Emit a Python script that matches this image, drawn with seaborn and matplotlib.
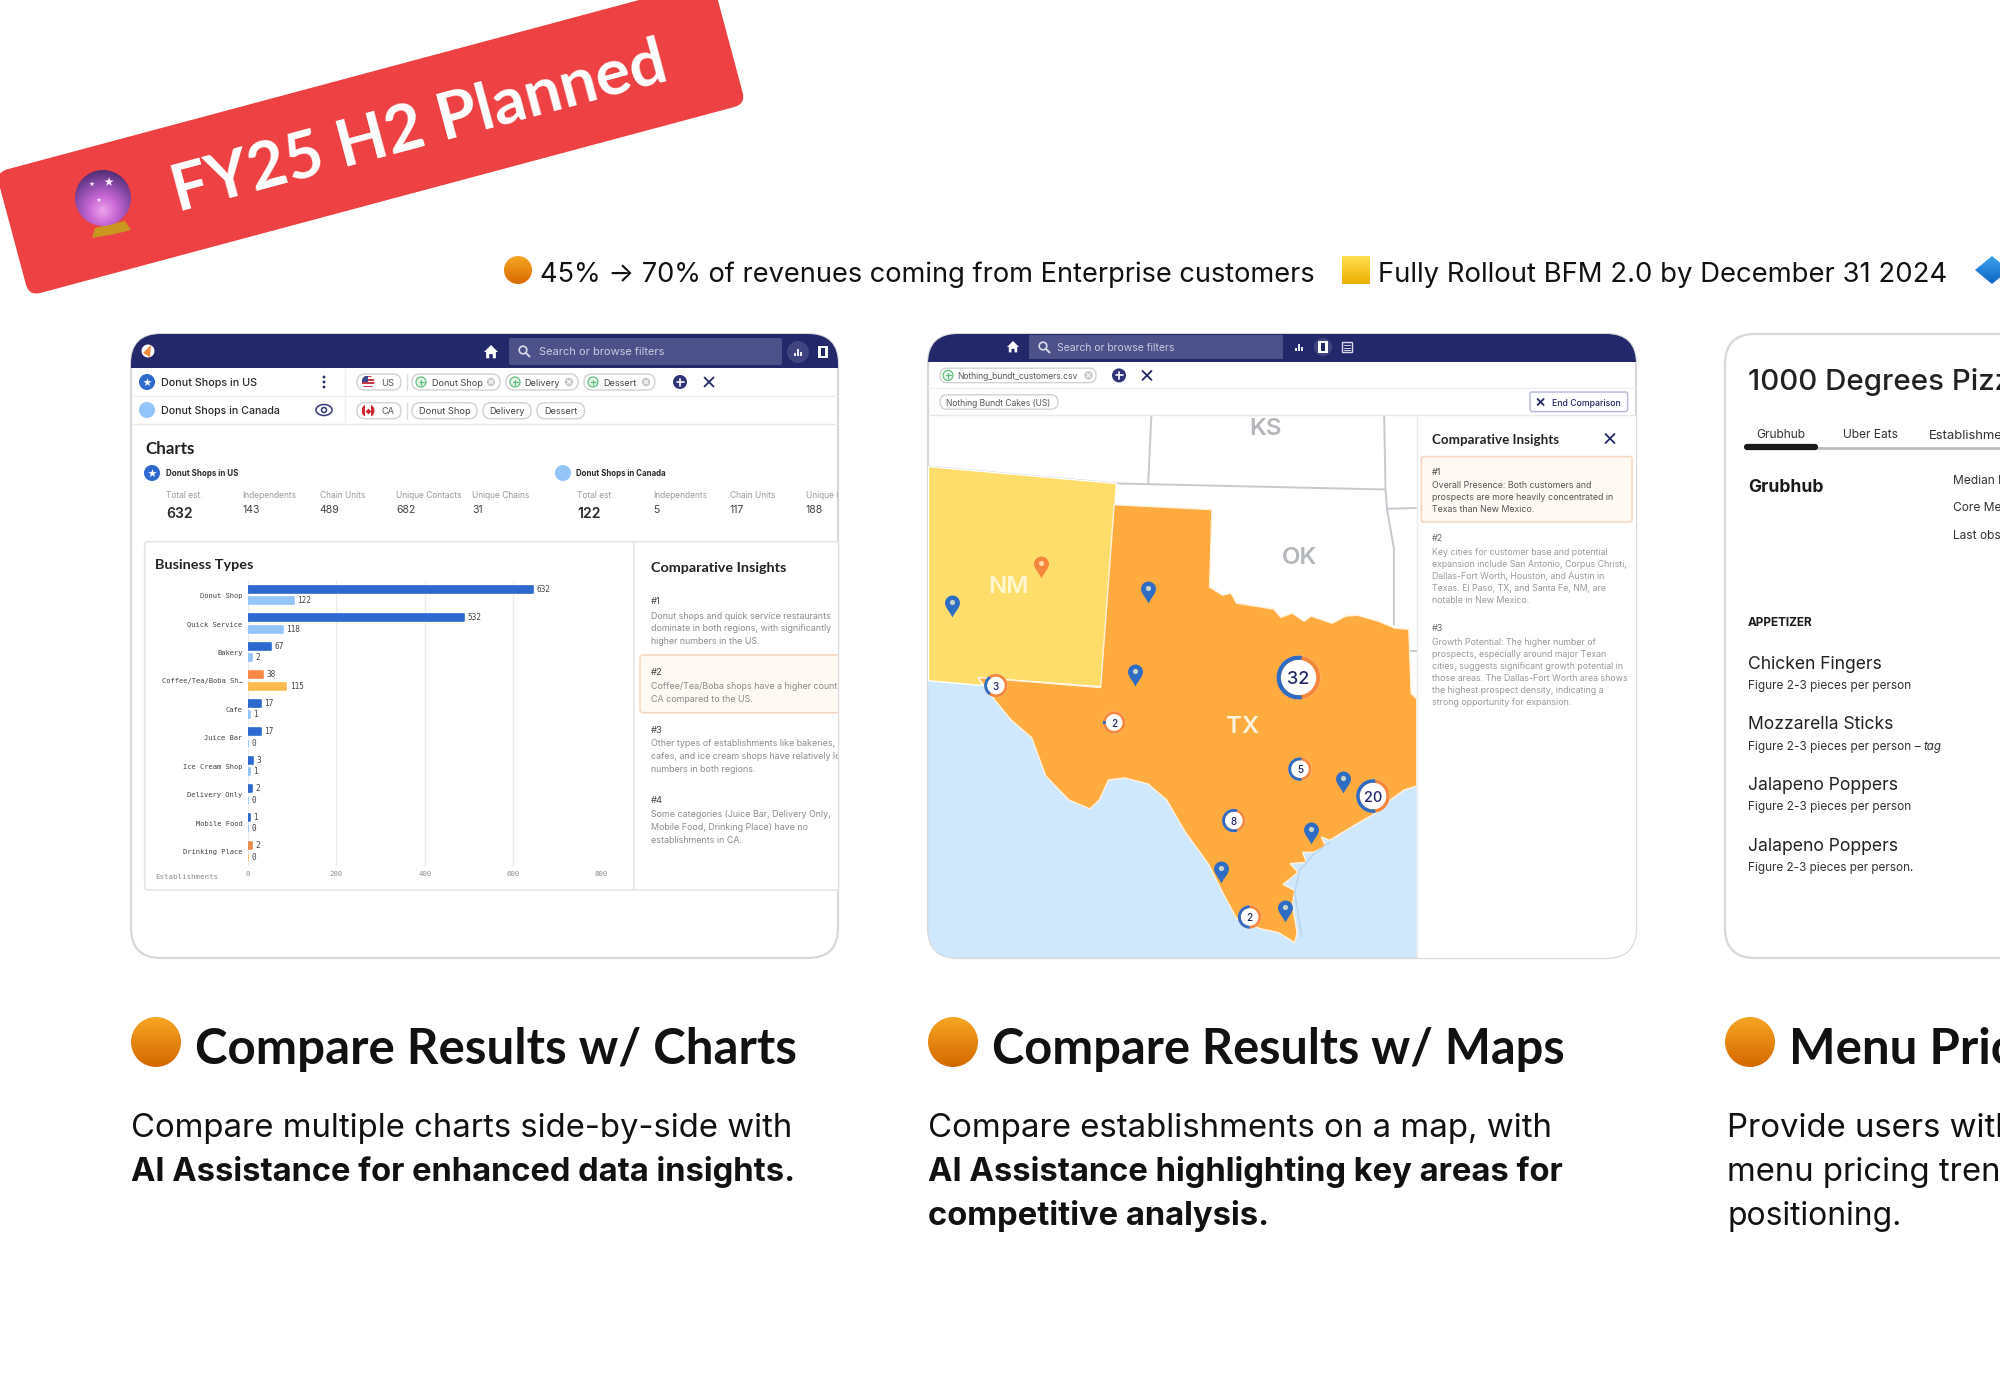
import numpy as np
import pandas as pd
import matplotlib
matplotlib.use("Agg")
import matplotlib.pyplot as plt
import seaborn as sns
from matplotlib.patches import FancyBboxPatch, Circle, Ellipse, Rectangle, Polygon, Wedge
from matplotlib.path import Path
from matplotlib.transforms import Affine2D
from matplotlib.colors import LinearSegmentedColormap

# ---------------- chart data ----------------
categories = ["Donut Shop", "Quick Service", "Bakery", "Coffee/Tea/Boba Sh\u2026", "Cafe",
              "Juice Bar", "Ice Cream Shop", "Delivery Only", "Mobile Food", "Drinking Place"]
us_lengths = [645, 489, 52, 34, 29, 29, 12, 8, 4, 8]      # bar lengths as drawn
ca_lengths = [104, 79, 8, 87, 4, 1, 4, 1, 1, 1]
us_labels = [632, 532, 67, 38, 17, 17, 3, 2, 1, 2]        # value labels as printed
ca_labels = [122, 118, 2, 115, 1, 0, 1, 0, 0, 0]
us_colors = ["#2D69CE"] * 3 + ["#FB8A45"] + ["#2D69CE"] * 5 + ["#E98E50"]
ca_colors = ["#93C5FB"] * 3 + ["#FDBB4F"] + ["#93C5FB"] * 5 + ["#FDBB4F"]
x_ticks = [0, 200, 400, 600, 800]

stat_heads = ["Total est.", "Independents", "Chain Units", "Unique Contacts", "Unique Chains"]
us_stats = ["632", "143", "489", "682", "31"]
ca_stats = ["122", "5", "117", "188"]

blue_pins = [(68, 688), (489, 652), (461, 859), (908, 1124), (840, 1252), (647, 1350), (785, 1445)]
orange_pins = [(260, 590)]
clusters = [("32", 813, 865, 47, .55), ("20", 973, 1160, 36, .55), ("3", 163, 885, 25, .3),
            ("2", 417, 977, 24, .05), ("5", 816, 1093, 25, .55), ("8", 674, 1221, 25, .6),
            ("2", 708, 1461, 25, .5)]
TEXAS = [(417, 435), (627, 447), (622, 640), (650, 660), (668, 655), (680, 680), (725, 688), (760, 695),
         (775, 715), (800, 705), (825, 725), (840, 712), (885, 730), (915, 712), (940, 710), (985, 725),
         (1020, 742), (1050, 745), (1055, 905), (1067, 918), (1067, 1135), (1040, 1145), (1010, 1170),
         (975, 1205), (930, 1235), (880, 1270), (862, 1262), (872, 1285), (845, 1300), (822, 1300), (830, 1325),
         (795, 1328), (812, 1350), (780, 1380), (805, 1395), (800, 1430),
         (810, 1500), (805, 1525), (770, 1500), (730, 1490), (680, 1465), (650, 1400), (620, 1330),
         (570, 1250), (530, 1170), (490, 1130), (440, 1115), (405, 1120), (385, 1170), (365, 1192),
         (320, 1170), (270, 1110), (240, 1015), (195, 970), (160, 920), (125, 865), (388, 890)]
NEW_MEXICO = [(18, 340), (422, 382), (390, 888), (125, 865), (135, 885), (18, 873)]
SEA = [(18, 873), (400, 895), (1067, 915), (1067, 1562), (18, 1562)]
BORDERS = [[(497, 213), (490, 385)], [(18, 340), (422, 382), (1000, 397)], [(997, 213), (1000, 397), (1003, 445), (1067, 443)],
           [(1003, 445), (1018, 545), (1018, 735)], [(1050, 800), (1067, 800)]]
ISLANDS = [(880, 1275), (845, 1305), (815, 1345), (805, 1400), (820, 1510)]

NAVY = "#23286B"
UI = "Inter"
HEAD = "Lato"
MONO = "DejaVu Sans Mono"

sns.set_theme(style="white")
plt.rcParams["font.family"] = ["Inter", "DejaVu Sans"]

fig = plt.figure(figsize=(20, 14), dpi=100, facecolor="white")
ax = fig.add_axes([0, 0, 1, 1])
ax.set_xlim(0, 2000)
ax.set_ylim(1400, 0)
ax.axis("off")
ax.set_autoscale_on(False)
renderer = fig.canvas.get_renderer()


def clip(a, c):
    if c is not None:
        a.set_clip_path(c)
        a.set_clip_on(True)
    return a


def T(x, y, s, px=12, x1=None, w="normal", c="#222222", fam=UI, ha="left", va="center", rot=0, cl=None, style="normal", z=5):
    t = ax.text(x, y, s, fontsize=px * .72, fontweight=w, color=c, family=fam, ha=ha, va=va,
                fontstyle=style, zorder=z, rotation_mode="anchor")
    if x1 is not None:
        bb = t.get_window_extent(renderer)
        t.set_fontsize(t.get_fontsize() * (x1 - x) / bb.width)
    if va == "center":
        t.set_y(y + .12 * t.get_fontsize() / .72)
    t.set_rotation(rot)
    if cl is not None:
        # the Agg backend clips text only to a box, so use the panel's box
        t.set_clip_box(cl.get_window_extent(renderer))
        t.set_clip_on(True)
    return t


def L(xs, ys, c="#444444", lw=1.0, cl=None, z=4, cap="round"):
    l, = ax.plot(xs, ys, color=c, lw=lw, zorder=z, solid_capstyle=cap)
    clip(l, cl)
    return l


def box(x0, y0, x1, y1, fc="white", ec="none", lw=1, r=0, cl=None, z=2):
    if r:
        p = FancyBboxPatch((x0, y0), x1 - x0, y1 - y0, boxstyle=f"round,pad=0,rounding_size={r}",
                           fc=fc, ec=ec, lw=lw, zorder=z)
    else:
        p = Rectangle((x0, y0), x1 - x0, y1 - y0, fc=fc, ec=ec, lw=lw, zorder=z)
    ax.add_patch(p)
    clip(p, cl)
    return p


def circ(x, y, r, fc="white", ec="none", lw=1, cl=None, z=4):
    p = Circle((x, y), r, fc=fc, ec=ec, lw=lw, zorder=z)
    ax.add_patch(p)
    clip(p, cl)
    return p


def orb(cx, cy, rx, ry, top, bottom, shape="ellipse", z=6):
    cm = LinearSegmentedColormap.from_list("o", [top, bottom])
    im = ax.imshow(np.linspace(0, 1, 64).reshape(-1, 1), cmap=cm, aspect="auto", zorder=z, interpolation="bilinear",
                   extent=(cx - rx, cx + rx, cy + ry, cy - ry))
    if shape == "ellipse":
        p = Ellipse((cx, cy), 2 * rx, 2 * ry, fc="none", ec="none", zorder=z)
    elif shape == "diamond":
        p = Polygon([(cx - rx, cy), (cx, cy - ry), (cx + rx, cy), (cx, cy + ry)], fc="none", ec="none", zorder=z)
    else:
        p = Rectangle((cx - rx, cy - ry), 2 * rx, 2 * ry, fc="none", ec="none", zorder=z)
    ax.add_patch(p)
    im.set_clip_path(p)


def xmark(x, y, s=4, c=NAVY, lw=1.3, cl=None, z=6):
    L([x - s, x + s], [y - s, y + s], c, lw, cl, z)
    L([x - s, x + s], [y + s, y - s], c, lw, cl, z)


def plus_circle(x, y, r=7):
    circ(x, y, r, fc="#2F3478", z=6)
    L([x - 3.5, x + 3.5], [y, y], "white", 1.2, z=7)
    L([x, x], [y - 3.5, y + 3.5], "white", 1.2, z=7)


def green_plus(x, y, r=5):
    circ(x, y, r, fc="#EAF7EE", ec="#62BF7F", lw=.9, z=6)
    L([x - 2.5, x + 2.5], [y, y], "#62BF7F", .9, z=7)
    L([x, x], [y - 2.5, y + 2.5], "#62BF7F", .9, z=7)


def gray_x(x, y, r=4.2):
    circ(x, y, r, fc="#C8C8C8", z=6)
    xmark(x, y, 1.8, "white", .8, z=7)


def home(x, y, s=6, c="white"):
    pts = [(-1, 0), (0, -1), (1, 0), (.7, 0), (.7, .9), (.25, .9), (.25, .3), (-.25, .3), (-.25, .9), (-.7, .9), (-.7, 0)]
    ax.add_patch(Polygon([(x + a * s, y + b * s) for a, b in pts], fc=c, ec="none", zorder=6))


def magnifier(x, y, c="#DADBEA"):
    ax.add_patch(Circle((x - 1, y - 1), 3.8, fc="none", ec=c, lw=1.2, zorder=6))
    L([x + 1.8, x + 5.5], [y + 1.8, y + 5.5], c, 1.4, z=6)


def bars_icon(x, y, c="white"):
    for dx, h in [(-3, 3), (0, 7), (3, 4)]:
        L([x + dx, x + dx], [y + 4, y + 4 - h], c, 1.3, z=7, cap="butt")


def map_icon(x, y, c="white"):
    ax.add_patch(Polygon([(x - 5, y - 6), (x + 5, y - 6), (x + 5, y + 6), (x - 5, y + 6)], fc=c, ec="none", zorder=7))
    ax.add_patch(Rectangle((x - 2, y - 4), 4, 8, fc=NAVY, ec="none", zorder=8))


def star_circle(x, y, r=8):
    circ(x, y, r, fc="#2D69CE", z=6)
    ax.scatter([x], [y], marker="*", s=(r * 1.1 * .72) ** 2, c="white", linewidths=0, zorder=7)


def pill(x0, x1, y, h=16, cl=None):
    box(x0, y - h / 2, x1, y + h / 2, fc="white", ec="#D2D2D2", lw=1, r=h / 2, cl=cl, z=3)


def us_flag(x, y, r=6.5):
    base = circ(x, y, r, fc="white", z=6)
    for k in range(4):
        clip(ax.add_patch(Rectangle((x - r, y - r + k * 3.4), 2 * r, 1.7, fc="#C8394A", ec="none", zorder=7)), base)
    clip(ax.add_patch(Rectangle((x - r, y - r), r, r, fc="#3C4A8C", ec="none", zorder=8)), base)


def ca_flag(x, y, r=6.5):
    base = circ(x, y, r, fc="white", z=6)
    for a in (x - r, x + r * .45):
        clip(ax.add_patch(Rectangle((a, y - r), r * .55, 2 * r, fc="#D0262F", ec="none", zorder=7)), base)
    ax.scatter([x], [y], marker="D", s=9, c="#D0262F", linewidths=0, zorder=8)


# ---------------- banner ----------------
tr = Affine2D().rotate_deg(-15).translate(29, 296) + ax.transData
ax.add_patch(FancyBboxPatch((0, -128), 742, 128, boxstyle="round,pad=0,rounding_size=12",
                            fc="#EE4144", ec="none", transform=tr, zorder=2))
T(178, 212, "FY25 H2 Planned", x1=178 + 512, w="bold", c="white", fam=HEAD, va="baseline", rot=15)
# crystal ball
yy, xx = np.mgrid[-1:1:80j, -1:1:80j]
rad = np.sqrt(xx ** 2 + (yy - .45) ** 2)
cm_ball = LinearSegmentedColormap.from_list("b", ["#EDA2EC", "#C968D6", "#8A4AA8", "#4A2A6E"])
im = ax.imshow(np.clip(rad / 1.5, 0, 1), cmap=cm_ball, aspect="auto", zorder=6, extent=(75, 131, 226, 170), vmin=0, vmax=1)
ball = Ellipse((103, 198), 56, 56, fc="none", ec="none", zorder=6)
ax.add_patch(ball)
im.set_clip_path(ball)
ax.add_patch(Polygon([(92, 238), (95, 228), (125, 221), (131, 230), (115, 234)], fc="#C9961F", ec="none", zorder=5))
ax.scatter([92, 109, 99], [184, 182, 200], marker="*", s=[16, 50, 14], c="#F8E6FA", linewidths=0, zorder=7)

# ---------------- ticker ----------------
orb(518, 270, 14, 14, "#F6A623", "#D96A00")
T(540, 282.5, "45% \u2192 70% of revenues coming from Enterprise customers", x1=1314, c="#111111", fam=[UI, "DejaVu Sans"], va="baseline")
orb(1356, 270, 14, 14, "#FFE04F", "#EDAE00", shape="rect")
T(1378, 282.5, "Fully Rollout BFM 2.0 by December 31 2024", x1=1945, c="#111111", fam=[UI, "DejaVu Sans"], va="baseline")
orb(1992, 270, 17, 14, "#3CA3F0", "#0E63C4", shape="diamond")

# ---------------- panels ----------------
p1 = box(131, 334, 838, 958, fc="white", ec="#D8D8D8", lw=1.6, r=30, z=1)
p2 = box(928, 334, 1636, 958, fc="white", ec="#D8D8D8", lw=1.6, r=30, z=1)
p3 = box(1725, 334, 2100, 958, fc="white", ec="#D8D8D8", lw=1.6, r=30, z=1)

# ---- panel 1 ----
box(131, 334, 838, 368, fc=NAVY, cl=p1)
circ(148, 351, 6.5, fc="white")
ax.add_patch(Polygon([(151, 345), (143, 353), (150, 357)], fc="#F08A3C", ec="none", zorder=6))
home(491, 352, 7)
box(509, 338, 782, 365, fc="#4C5189", r=2, z=3)
magnifier(524, 351)
T(539, 351, "Search or browse filters", x1=664, c="#C9CBE0")
circ(798, 352, 11, fc="#3F4480", z=3)
bars_icon(798, 352)
map_icon(823, 352)
L([131, 838], [396, 396], "#EFEFEF", 1)
L([131, 838], [424, 424], "#E8E8E8", 1)
L([345, 345], [368, 424], "#EFEFEF", 1)
star_circle(147, 382)
T(161, 382, "Donut Shops in US", x1=257, c="#2A2A2A", w="medium")
for dy in (-5, 0, 5):
    circ(324, 382 + dy, 1.4, fc=NAVY, z=6)
circ(147, 410, 8, fc="#93C5FB")
T(161, 410, "Donut Shops in Canada", x1=280, c="#2A2A2A", w="medium")
ax.add_patch(Ellipse((324, 410), 16, 11, fc="none", ec="#33397A", lw=1.1, zorder=6))
circ(324, 410, 2.5, fc="none", ec="#33397A", lw=1.1, z=6)

pill(357, 401, 382)
us_flag(368, 382)
T(381, 382, "US", x1=394, c="#555555")
L([407, 407], [374, 390], "#DDDDDD", 1)
for x0, x1, tx0, tx1, lab in [(412, 500, 432, 482, "Donut Shop"), (506, 578, 524, 559, "Delivery"), (584, 655, 603, 636, "Dessert")]:
    pill(x0, x1, 382)
    green_plus(x0 + 9, 382)
    T(tx0, 382, lab, x1=tx1, c="#444444")
    gray_x(x1 - 9, 382)
plus_circle(680, 382)
xmark(709, 382, 4.5)
pill(357, 401, 410.7)
ca_flag(368, 410.7)
T(381, 410.7, "CA", x1=394, c="#555555")
L([407, 407], [403, 419], "#DDDDDD", 1)
for x0, x1, tx0, tx1, lab in [(412, 477, 419, 470, "Donut Shop"), (483, 531, 489, 524, "Delivery"), (537, 584.5, 544, 577, "Dessert")]:
    pill(x0, x1, 410.7)
    T(tx0, 410.7, lab, x1=tx1, c="#444444")

T(145, 454, "Charts", x1=195, w="bold", c="#222222", fam=HEAD, va="baseline")
star_circle(152, 473)
T(166, 473, "Donut Shops in US", x1=238, w="bold", c="#2A2A2A")
circ(563, 473, 8, fc="#93C5FB")
T(576, 473, "Donut Shops in Canada", x1=666, w="bold", c="#2A2A2A")
us_x = [166, 242.5, 319.6, 396, 472.5]
ca_x = [577, 653, 730, 806]
for xs, vals, heads in [(us_x, us_stats, stat_heads), (ca_x, ca_stats, stat_heads[:3] + ["Unique Contacts"])]:
    for k, (x, v, h) in enumerate(zip(xs, vals, heads)):
        T(x, 494, h, px=8.4, c="#9A9A9A", cl=p1)
        if k == 0:
            T(x, 512, v, px=14, w="semibold", c="#2A2A2A")
        else:
            T(x, 509, v, px=10.5, c="#444444")

box(144.7, 541.7, 900, 890, fc="white", ec="#E6E6E6", lw=1.2, r=3, cl=p1, z=2)
L([634, 634], [541.7, 890], "#E6E6E6", 1.2, z=3)
T(155, 563, "Business Types", x1=253.5, w="bold", c="#222222", fam=HEAD)
T(650.6, 566, "Comparative Insights", x1=787, w="bold", c="#222222", fam=HEAD)
box(640, 655, 900, 712.7, fc="#FFF9F3", ec="#F6D6BE", lw=1.1, r=3, cl=p1, z=3)
insights1 = [("#1", 600.7, [(615, "Donut shops and quick service restaurants"), (627.7, "dominate in both regions, with significantly"), (640.3, "higher numbers in the US.")]),
             ("#2", 671, [(685, "Coffee/Tea/Boba shops have a higher count in"), (698, "CA compared to the US.")]),
             ("#3", 729, [(742.7, "Other types of establishments like bakeries,"), (755.7, "cafes, and ice cream shops have relatively low"), (768.7, "numbers in both regions.")]),
             ("#4", 799, [(813, "Some categories (Juice Bar, Delivery Only,"), (826, "Mobile Food, Drinking Place) have no"), (839, "establishments in CA.")])]
for head, hy, lines in insights1:
    T(650.6, hy, head, px=9.4, c="#444444")
    for ly, s in lines:
        T(650.6, ly, s, px=8.9, c="#8C8C8C", cl=p1)

# bar chart (pixel box: x 248-601.5 for 0-800, rows 28.5 px apart)
bax = fig.add_axes([248 / 2000, 1 - 865.75 / 1400, 353.5 / 2000, 285 / 1400], facecolor="none", zorder=3)
df = pd.DataFrame({
    "category": categories * 2,
    "length": us_lengths + ca_lengths,
    "region": ["US"] * 10 + ["Canada"] * 10,
})
sns.barplot(data=df, y="category", x="length", hue="region", hue_order=["US", "Canada"], orient="h",
            gap=.4, legend=False, ax=bax, errorbar=None)
bax.set_xlim(0, 800)
bax.set_ylim(9.5, -.5)
bax.set_xticks(x_ticks)
bax.set_xticklabels([str(v) for v in x_ticks], fontsize=5.2, family=MONO, color="#8E8E8E")
bax.set_yticks(range(10))
bax.set_yticklabels(categories, fontsize=5.15, family=MONO, color="#444444")
bax.tick_params(axis="both", length=0, pad=4)
bax.set_xlabel("")
bax.set_ylabel("")
bax.xaxis.grid(True, color="#ECECEC", lw=.9)
bax.yaxis.grid(False)
bax.set_axisbelow(True)
for s in bax.spines.values():
    s.set_visible(False)
for cont, cols, labs in zip(bax.containers, (us_colors, ca_colors), (us_labels, ca_labels)):
    for bar, col in zip(cont, cols):
        bar.set_facecolor(col)
        bar.set_edgecolor(col)
        bar.set_linewidth(1.2)
        bar.set_joinstyle("round")
    bax.bar_label(cont, labels=[str(v) for v in labs], padding=2.5, fontsize=5.6, family=MONO, color="#444444")
T(155, 876, "Establishments", x1=218, fam=MONO, c="#8E8E8E")

# ---- panel 2 ----
def P2(zx, zy):
    return 920 + zx / 2.148, 330 + zy / 2.489


box(928, 334, 1636, 362, fc=NAVY, cl=p2)
home(1013, 347, 6)
box(1029.4, 335, 1283, 359, fc="#4C5189", z=3)
magnifier(1044, 347)
T(1057, 347, "Search or browse filters", x1=1174, c="#C9CBE0")
bars_icon(1298.5, 347)
circ(1323, 347, 9, fc="#3F4480", z=3)
map_icon(1323, 347)
ax.add_patch(Rectangle((1342, 342), 10, 10, fc="none", ec="#DADBEA", lw=1, zorder=6))
for dy in (345, 347.5, 350):
    L([1344, 1350], [dy, dy], "#DADBEA", .7, z=6)
L([928, 1636], [388, 388], "#EFEFEF", 1, cl=p2)
L([928, 1636], [415, 415], "#E8E8E8", 1, cl=p2)
pill(940, 1096, 375.4, h=14.5)
green_plus(948, 375.4)
T(957.7, 375.4, "Nothing_bundt_customers.csv", x1=1079, c="#555555")
gray_x(1088.5, 375.4)
plus_circle(1119, 375.4)
xmark(1147, 375.4, 4.5)
pill(940, 1058, 402, h=14.5)
T(946.5, 402, "Nothing Bundt Cakes (US)", x1=1051, c="#555555")
box(1530, 392, 1627.6, 411.6, fc="white", ec="#B9BCDB", lw=1.1, r=2, z=3)
xmark(1540.6, 402, 3)
T(1552, 402, "End Comparison", x1=1620.6, c=NAVY, w="medium")


# map
def outline(pts, fc, ec="none", lw=1, z=2):
    pg = Polygon([P2(*q) for q in pts], closed=True, fc=fc, ec=ec, lw=lw, zorder=z)
    ax.add_patch(pg)
    pg.set_clip_path(p2)
    return pg


outline(SEA, "#D0E8FC", z=2)
for seg in BORDERS:
    xs, ys = zip(*[P2(*q) for q in seg])
    L(xs, ys, "#C6C9CD", 1.4, cl=p2, z=2.2, cap="butt")
outline(NEW_MEXICO, "#FFDD6B", ec="#FFFFFF", lw=1, z=2.5)
outline(TEXAS, "#FFAB40", ec="#FFF3E0", lw=1, z=2.6)
xs, ys = zip(*[P2(*q) for q in ISLANDS])
L(xs, ys, "#B9D6EC", 1.1, cl=p2, z=2.7)
T(*P2(742, 240), "KS", px=24, w="semibold", c="#B4B7BB", ha="center", z=3)
T(*P2(815, 560), "OK", px=24, w="semibold", c="#B4B7BB", ha="center", z=3)
T(*P2(190, 632), "NM", px=24, w="semibold", c="#FFF6D2", ha="center", z=3)
T(*P2(693, 982), "TX", px=24, w="semibold", c="#FFF4E2", ha="center", z=3)

PIN = Path([(0, -1), (-.25, -.45), (-.68, -.1), (-.68, .32), (-.68, .7), (-.38, 1), (0, 1), (.38, 1), (.68, .7), (.68, .32),
            (.68, -.1), (.25, -.45), (0, -1), (0, -1)],
           [Path.MOVETO] + [Path.CURVE4] * 12 + [Path.CLOSEPOLY])
for pins, col, dot in [(blue_pins, "#2F6CC4", "#C8D4C8"), (orange_pins, "#F6863C", "#FFD9A8")]:
    xy = np.array([P2(*q) for q in pins])
    ax.scatter(xy[:, 0], xy[:, 1], marker=PIN, s=250, c=col, linewidths=0, zorder=5)
    ax.scatter(xy[:, 0], xy[:, 1] - 4, marker="o", s=14, c=dot, linewidths=0, zorder=6)

for lab, zx, zy, zr, share in clusters:
    cx, cy = P2(zx, zy)
    r = zr / 2.148
    wd = 4.2 if r > 20 else (3.4 if r > 15 else 2.8)
    circ(cx, cy, r, fc="white", z=6)
    ax.add_patch(Wedge((cx, cy), r, 0, 360, width=wd, fc="#F6863C", ec="none", zorder=7))
    ax.add_patch(Wedge((cx, cy), r, 180 - 180 * share, 180 + 180 * share, width=wd, fc="#2F6CC4", ec="none", zorder=8))
    T(cx, cy, lab, px=18 if r > 20 else (14.5 if r > 15 else 10), w="medium", c=NAVY, ha="center", z=9)

# insights on the right of panel 2
box(1417, 415, 1636, 958, fc="white", ec="none", cl=p2, z=3)
L([1417, 1417], [415, 958], "#EDEDED", 1, cl=p2, z=3.1)
T(1431.6, 438.5, "Comparative Insights", x1=1558.7, w="bold", c="#222222", fam=HEAD)
xmark(1610, 438.5, 4.5)
box(1421.4, 456.6, 1632, 522, fc="#FFF9F3", ec="#F6D6BE", lw=1.1, r=2, z=4)
T(1431.6, 471, "#1", px=9, c="#444444")
for ly, s in [(484.7, "Overall Presence: Both customers and"), (496.7, "prospects are more heavily concentrated in"), (508.8, "Texas than New Mexico.")]:
    T(1431.6, ly, s, px=8.8, c="#555555")
T(1431.6, 537.3, "#2", px=9, c="#666666")
for ly, s in [(551, "Key cities for customer base and potential"), (563, "expansion include San Antonio, Corpus Christi,"), (575, "Dallas-Fort Worth, Houston, and Austin in"),
              (587, "Texas. El Paso, TX, and Santa Fe, NM, are"), (599, "notable in New Mexico.")]:
    T(1431.6, ly, s, px=8.8, c="#999999")
T(1431.6, 627.7, "#3", px=9, c="#666666")
for ly, s in [(641.4, "Growth Potential: The higher number of"), (653.4, "prospects, especially around major Texan"), (665.5, "cities, suggests significant growth potential in"),
              (677.5, "those areas. The Dallas-Fort Worth area shows"), (689.6, "the highest prospect density, indicating a"), (701.6, "strong opportunity for expansion.")]:
    T(1431.6, ly, s, px=8.8, c="#999999")

# ---- panel 3 ----
T(1748, 389.5, "1000 Degrees Pizza", px=29.5, w="medium", c="#222222", va="baseline")
T(1756, 434, "Grubhub", x1=1805, c="#333333")
T(1843, 434, "Uber Eats", x1=1898, c="#333333")
T(1929, 434, "Establishments", px=13, c="#333333")
L([1745, 2000], [448, 448], "#BDBDBD", 2, cap="butt")
L([1747, 1815], [447, 447], "#1A1A1A", 4.5, z=5)
T(1748, 485, "Grubhub", x1=1823, w="bold", c="#1A1A1A")
for y, s in [(480, "Median Menu"), (507, "Core Menu"), (534.5, "Last observed")]:
    T(1953, y, s, px=12, c="#333333")
T(1748, 622, "APPETIZER", x1=1813, w="bold", c="#1A1A1A")
T(1748, 662, "Chicken Fingers", x1=1882, c="#222222")
T(1748, 685, "Figure 2-3 pieces per person", x1=1911, c="#333333")
T(1748, 722.5, "Mozzarella Sticks", x1=1893, c="#222222")
T(1748, 745.4, "Figure 2-3 pieces per person \u2013", x1=1920, c="#333333")
T(1923, 745.4, "tag", x1=1941, c="#333333", style="italic")
T(1748, 783, "Jalapeno Poppers", x1=1897, c="#222222")
T(1748, 806, "Figure 2-3 pieces per person", x1=1911, c="#333333")
T(1748, 844, "Jalapeno Poppers", x1=1897, c="#222222")
T(1748, 867, "Figure 2-3 pieces per person.", x1=1913, c="#333333")

# ---------------- captions ----------------
orb(156, 1042, 25, 25, "#F6A623", "#D46800")
orb(953, 1042, 25, 25, "#F6A623", "#D46800")
orb(1750, 1042, 25, 25, "#F6A623", "#D46800")
h = T(195, 1064, "Compare Results w/ Charts", x1=798.6, w="bold", c="#111111", fam=HEAD, va="baseline")
hpx = h.get_fontsize() / .72
T(992, 1064, "Compare Results w/ Maps", x1=1567, w="bold", c="#111111", fam=HEAD, va="baseline")
T(1789, 1064, "Menu Pricing", px=hpx, w="bold", c="#111111", fam=HEAD, va="baseline")
b = T(131, 1137, "Compare multiple charts side-by-side with", x1=793, c="#111111", va="baseline")
bpx = b.get_fontsize() / .72
T(131, 1181, "AI Assistance for enhanced data insights.", x1=796, w="bold", c="#111111", va="baseline")
T(928, 1137, "Compare establishments on a map, with", x1=1550, c="#111111", va="baseline")
T(928, 1181, "AI Assistance highlighting key areas for", x1=1564, w="bold", c="#111111", va="baseline")
T(928, 1225, "competitive analysis.", x1=1268, w="bold", c="#111111", va="baseline")
T(1727, 1137, "Provide users with", px=bpx, c="#111111", va="baseline")
T(1727, 1181, "menu pricing trends", px=bpx, c="#111111", va="baseline")
T(1727, 1225, "positioning.", x1=1901, c="#111111", va="baseline")

ax.set_xlim(0, 2000)
ax.set_ylim(1400, 0)
fig.savefig("out.png", dpi=100, facecolor="white")
